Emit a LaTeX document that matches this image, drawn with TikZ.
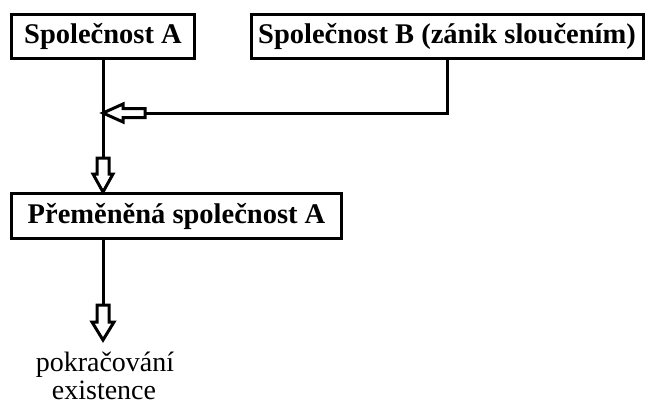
\documentclass[tikz,border=0pt]{standalone}
\usepackage{fontspec}
\setmainfont{Liberation Serif}
\begin{document}
\begin{tikzpicture}[x=1pt,y=-1pt,
  box/.style={draw=black,line width=3pt,fill=white,inner sep=0pt,font=\fontsize{28.5}{32}\selectfont\bfseries},
  conn/.style={draw=black,line width=3pt},
  blockarrow/.style={draw=black,line width=3pt,fill=white,line join=miter},
  lbl/.style={inner sep=0pt,font=\fontsize{28}{32}\selectfont,anchor=base}]
\useasboundingbox[fill=white] (0,0) rectangle (648,405);
\node[box,minimum width=183pt,minimum height=44pt] (A) at (103,36.5) {Společnost A};
\node[box,minimum width=392pt,minimum height=44pt] (B) at (447,36.5) {Společnost B (zánik sloučením)};
\node[box,minimum width=330pt,minimum height=45pt] (C) at (176.5,216) {Přeměněná společnost A};
\node[lbl] (p1) at (105,371) {pokračování};
\node[lbl] (p2) at (104,399) {existence};
\coordinate (j) at (A.south |- 0,113);
\coordinate (t1) at (A.south |- C.north);
\coordinate (t2) at (A.south |- 0,340);
% A to C with merge
\draw[conn] (A.south) -- ++(0,97);
\draw[conn] (B.south) |- ([xshift=42pt]j);
\draw[blockarrow] (j) -- ++(20,-9) -- ++(0,4.5) -- ++(22,0) -- ++(0,9) -- ++(-22,0) -- ++(0,4.5) -- cycle;
\draw[blockarrow] (t1) -- ++(-10,-18) -- ++(4,0) -- ++(0,-16) -- ++(12,0) -- ++(0,16) -- ++(4,0) -- cycle;
% C to continuation
\draw[conn] (C.south -| A.south) -- ++(0,66);
\draw[blockarrow] (t2) -- ++(-11,-18) -- ++(5,0) -- ++(0,-17) -- ++(12,0) -- ++(0,17) -- ++(5,0) -- cycle;
\end{tikzpicture}
\end{document}
